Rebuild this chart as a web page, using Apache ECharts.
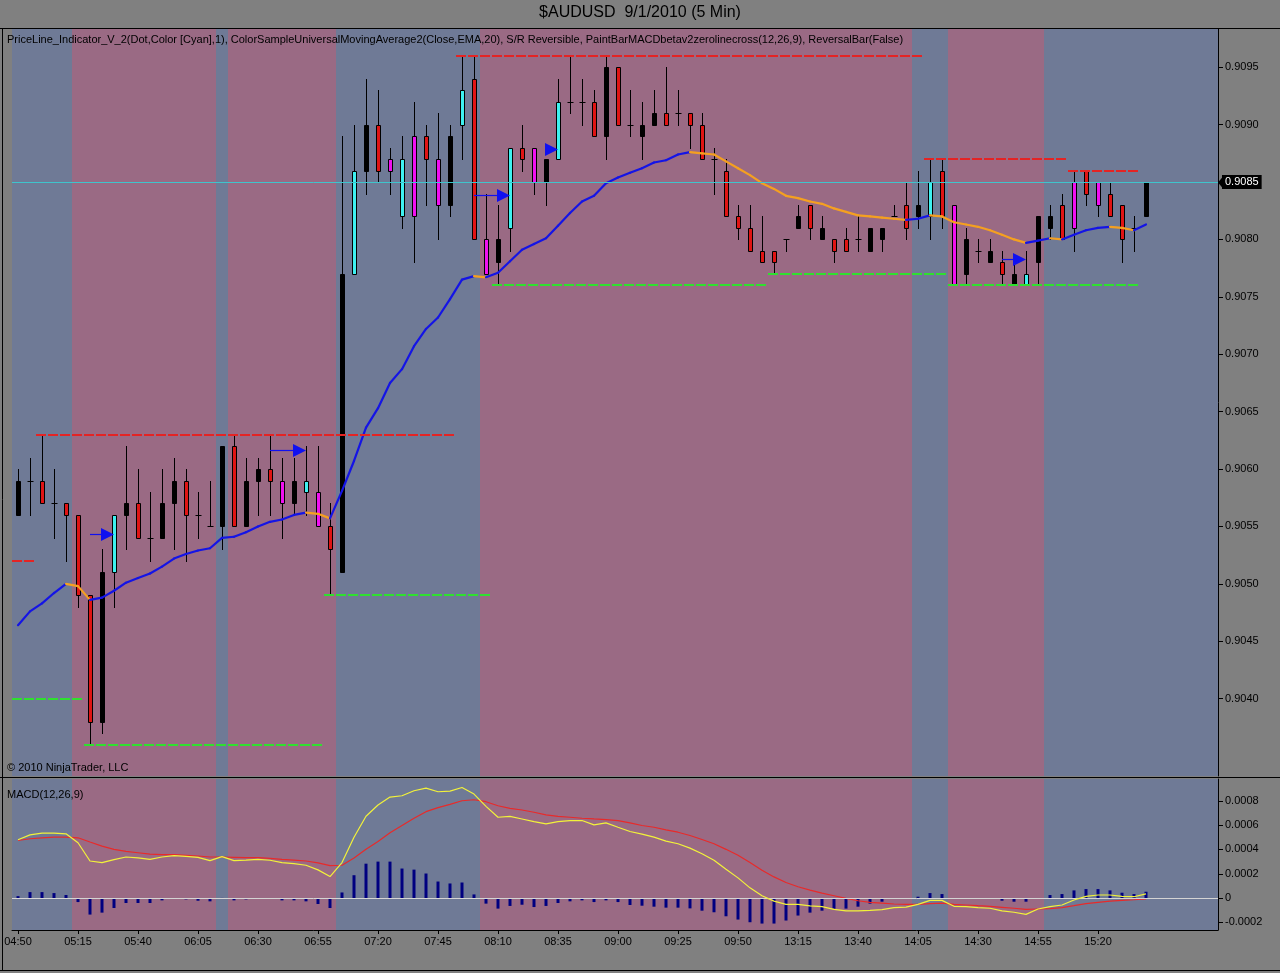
<!DOCTYPE html>
<html><head><meta charset="utf-8">
<script src="https://cdn.jsdelivr.net/npm/echarts@6/dist/echarts.min.js"></script>
<style>html,body{margin:0;padding:0;background:#808080;}#c{width:1280px;height:973px;}</style>
</head><body><div id="c"></div>
<script>
// ---------- DATA ----------
const times = [
'04:50','04:55','05:00','05:05','05:10','05:15','05:20','05:25','05:30','05:35',
'05:40','05:45','05:50','05:55','06:00','06:05','06:10','06:15','06:20','06:25',
'06:30','06:35','06:40','06:45','06:50','06:55','07:00','07:05','07:10','07:15',
'07:20','07:25','07:30','07:35','07:40','07:45','07:50','07:55','08:00','08:05',
'08:10','08:15','08:20','08:25','08:30','08:35','08:40','08:45','08:50','08:55',
'09:00','09:05','09:10','09:15','09:20','09:25','09:30','09:35','09:40','09:45',
'09:50','12:55','13:00','13:05','13:10','13:15','13:20','13:25','13:30','13:35',
'13:40','13:45','13:50','13:55','14:00','14:05','14:10','14:15','14:20','14:25',
'14:30','14:35','14:40','14:45','14:50','14:55','15:00','15:05','15:10','15:15',
'15:20','15:25','15:30','15:35','15:40'];

const opens = [
.9056,.9059,.9059,.9057,.9057,.9056,.9049,.9038,.9051,.9056,
.9057,.9054,.9054,.9057,.9059,.9056,.9055,.9055,.9062,.9055,
.9059,.9060,.9059,.9057,.9058,.9058,.9055,.9051,.9077,.9086,
.9090,.9087,.9082,.9089,.9089,.9087,.9083,.9090,.9094,.9080,
.9078,.9081,.9088,.9088,.9085,.9087,.9092,.9092,.9092,.9089,
.9095,.9090,.9089,.9090,.9091,.9091,.9091,.9090,.9087,.9086,
.9082,.9081,.9079,.9079,.9080,.9081,.9083,.9080,.9080,.9080,
.9080,.9079,.9080,.9082,.9083,.9082,.9082,.9086,.9083,.9077,
.9079,.9078,.9078,.9076,.9076,.9078,.9081,.9083,.9085,.9086,
.9085,.9084,.9083,.9081,.9082];
const highs = [
.9060,.9061,.9063,.9060,.9057,.9056,.9049,.9053,.9056,.9062,
.9060,.9058,.9060,.9061,.9060,.9058,.9059,.9062,.9063,.9061,
.9061,.9063,.9061,.9061,.9062,.9062,.9057,.9089,.9090,.9094,
.9093,.9088,.9089,.9092,.9090,.9091,.9090,.9096,.9096,.9084,
.9083,.9088,.9090,.9088,.9087,.9094,.9096,.9094,.9093,.9096,
.9095,.9093,.9092,.9093,.9095,.9093,.9091,.9091,.9088,.9087,
.9083,.9083,.9082,.9079,.9080,.9083,.9083,.9082,.9080,.9081,
.9082,.9081,.9081,.9083,.9085,.9086,.9087,.9087,.9083,.9081,
.9080,.9080,.9079,.9078,.9079,.9082,.9083,.9084,.9086,.9086,
.9085,.9085,.9083,.9082,.9085];
const lows = [
.9056,.9056,.9057,.9054,.9052,.9048,.9036,.9037,.9048,.9053,
.9054,.9052,.9054,.9053,.9052,.9054,.9055,.9053,.9055,.9055,
.9056,.9056,.9054,.9056,.9056,.9055,.9049,.9051,.9077,.9084,
.9085,.9084,.9081,.9078,.9083,.9080,.9082,.9087,.9080,.9077,
.9076,.9079,.9086,.9084,.9083,.9087,.9091,.9090,.9089,.9087,
.9090,.9089,.9087,.9090,.9090,.9090,.9088,.9087,.9084,.9082,
.9080,.9079,.9078,.9077,.9079,.9081,.9080,.9080,.9078,.9079,
.9079,.9079,.9079,.9082,.9080,.9081,.9080,.9081,.9076,.9076,
.9078,.9078,.9076,.9076,.9076,.9076,.9080,.9080,.9079,.9083,
.9082,.9082,.9078,.9079,.9082];
const closes = [
.9059,.9059,.9057,.9057,.9056,.9049,.9038,.9051,.9056,.9057,
.9054,.9054,.9057,.9059,.9056,.9056,.9055,.9062,.9055,.9059,
.9060,.9059,.9057,.9059,.9059,.9055,.9053,.9077,.9086,.9090,
.9086,.9086,.9087,.9082,.9087,.9083,.9089,.9093,.9080,.9077,
.9080,.9088,.9087,.9085,.9087,.9092,.9092,.9092,.9089,.9095,
.9090,.9090,.9090,.9091,.9090,.9091,.9090,.9087,.9087,.9082,
.9081,.9079,.9078,.9078,.9080,.9082,.9081,.9081,.9079,.9079,
.9080,.9081,.9081,.9082,.9081,.9083,.9085,.9082,.9076,.9080,
.9079,.9079,.9077,.9077,.9077,.9082,.9082,.9080,.9081,.9084,
.9083,.9082,.9080,.9081,.9085];
// paint-bar colour codes: k black, r red, c cyan, m magenta
const paint = [
'k','k','r','k','r','r','r','k','c','k',
'r','k','k','k','r','k','k','k','r','k',
'k','r','m','k','c','m','r','k','c','k',
'r','m','c','m','r','m','k','c','r','m',
'k','c','r','m','k','c','k','k','r','k',
'r','k','k','k','r','k','r','r','k','r',
'r','r','r','r','k','k','r','k','r','r',
'k','k','k','k','r','k','c','r','m','k',
'k','k','r','k','c','k','k','r','m','r',
'm','r','r','k','k'];
const ema20 = [
.90464,.90476,.90483,.90492,.90500,.90498,.90486,.90488,.90494,.90501,
.90505,.90509,.90515,.90522,.90526,.90529,.90531,.90540,.90541,.90545,
.90550,.90554,.90556,.90560,.90562,.90561,.90557,.90581,.90607,.90636,
.90653,.90675,.90687,.90707,.90722,.90732,.90748,.90765,.90768,.90767,
.90771,.90781,.90791,.90796,.90801,.90812,.90823,.90833,.90838,.90849,
.90854,.90858,.90862,.90867,.90869,.90874,.90876,.90875,.90874,.90868,
.90862,.90856,.90849,.90844,.90838,.90836,.90833,.90831,.90827,.90824,
.90821,.90820,.90819,.90818,.90817,.90818,.90821,.90820,.90815,.90813,
.90811,.90808,.90804,.90800,.90797,.90799,.90801,.90800,.90804,.90808,
.90810,.90811,.90810,.90808,.90813];
const macd = [
4.80e-4,5.20e-4,5.34e-4,5.34e-4,5.29e-4,4.55e-4,3.05e-4,2.92e-4,3.16e-4,3.38e-4,
3.30e-4,3.19e-4,3.38e-4,3.49e-4,3.43e-4,3.35e-4,3.08e-4,3.41e-4,3.08e-4,3.13e-4,
3.19e-4,3.11e-4,2.92e-4,2.83e-4,2.70e-4,2.32e-4,1.77e-4,2.92e-4,5.01e-4,6.73e-4,
7.66e-4,8.31e-4,8.42e-4,8.83e-4,9.05e-4,8.75e-4,8.80e-4,9.10e-4,8.56e-4,7.55e-4,
6.65e-4,6.73e-4,6.51e-4,6.29e-4,6.10e-4,6.29e-4,6.38e-4,6.38e-4,6.02e-4,6.19e-4,
5.83e-4,5.48e-4,5.26e-4,5.01e-4,4.69e-4,4.47e-4,4.11e-4,3.65e-4,3.11e-4,2.37e-4,
1.66e-4,0.84e-4,0.19e-4,-0.25e-4,-0.52e-4,-0.52e-4,-0.65e-4,-0.71e-4,-0.93e-4,-1.06e-4,
-1.06e-4,-1.01e-4,-0.95e-4,-0.79e-4,-0.74e-4,-0.52e-4,-0.19e-4,-0.19e-4,-0.68e-4,-0.71e-4,
-0.79e-4,-0.84e-4,-1.06e-4,-1.17e-4,-1.34e-4,-0.90e-4,-0.71e-4,-0.57e-4,-0.16e-4,0.14e-4,
0.25e-4,0.25e-4,0.14e-4,0.11e-4,0.35e-4];
const signal = [
4.74e-4,4.88e-4,4.96e-4,5.01e-4,5.01e-4,4.96e-4,4.61e-4,4.28e-4,4.01e-4,3.84e-4,
3.73e-4,3.62e-4,3.57e-4,3.57e-4,3.52e-4,3.46e-4,3.38e-4,3.38e-4,3.35e-4,3.32e-4,
3.32e-4,3.27e-4,3.19e-4,3.13e-4,3.05e-4,2.89e-4,2.67e-4,2.70e-4,3.30e-4,4.01e-4,
4.66e-4,5.37e-4,5.97e-4,6.57e-4,7.11e-4,7.44e-4,7.71e-4,8.01e-4,8.09e-4,7.93e-4,
7.60e-4,7.38e-4,7.25e-4,7.06e-4,6.84e-4,6.73e-4,6.65e-4,6.57e-4,6.51e-4,6.46e-4,
6.38e-4,6.19e-4,5.97e-4,5.83e-4,5.61e-4,5.42e-4,5.15e-4,4.82e-4,4.47e-4,4.01e-4,
3.52e-4,2.92e-4,2.29e-4,1.74e-4,1.28e-4,0.93e-4,0.65e-4,0.41e-4,0.19e-4,-0.03e-4,
-0.22e-4,-0.35e-4,-0.41e-4,-0.49e-4,-0.52e-4,-0.52e-4,-0.46e-4,-0.41e-4,-0.52e-4,-0.57e-4,
-0.63e-4,-0.68e-4,-0.76e-4,-0.84e-4,-0.93e-4,-0.90e-4,-0.87e-4,-0.79e-4,-0.63e-4,-0.46e-4,
-0.35e-4,-0.25e-4,-0.19e-4,-0.14e-4,-0.08e-4];
const hist = [
0.16e-4,0.49e-4,0.49e-4,0.41e-4,0.25e-4,-0.33e-4,-1.36e-4,-1.20e-4,-0.82e-4,-0.41e-4,
-0.41e-4,-0.41e-4,-0.19e-4,-0.05e-4,-0.11e-4,-0.22e-4,-0.27e-4,0.01e-4,-0.19e-4,-0.11e-4,
-0.05e-4,-0.05e-4,-0.19e-4,-0.19e-4,-0.27e-4,-0.49e-4,-0.82e-4,0.46e-4,1.88e-4,2.83e-4,
3.00e-4,3.00e-4,2.43e-4,2.34e-4,2.02e-4,1.36e-4,1.20e-4,1.28e-4,0.30e-4,-0.46e-4,
-0.87e-4,-0.65e-4,-0.55e-4,-0.74e-4,-0.65e-4,-0.41e-4,-0.27e-4,-0.19e-4,-0.33e-4,-0.19e-4,
-0.33e-4,-0.57e-4,-0.63e-4,-0.71e-4,-0.79e-4,-0.79e-4,-0.85e-4,-1.04e-4,-1.17e-4,-1.50e-4,
-1.77e-4,-1.99e-4,-2.10e-4,-2.10e-4,-1.85e-4,-1.44e-4,-1.20e-4,-1.04e-4,-0.87e-4,-0.87e-4,
-0.71e-4,-0.46e-4,-0.30e-4,-0.08e-4,-0.08e-4,0.11e-4,0.41e-4,0.33e-4,-0.08e-4,-0.08e-4,
-0.08e-4,-0.08e-4,-0.22e-4,-0.30e-4,-0.30e-4,-0.01e-4,0.25e-4,0.33e-4,0.63e-4,0.74e-4,
0.74e-4,0.63e-4,0.44e-4,0.33e-4,0.52e-4];
// S/R levels: [fromBar, toBar, price]
const resistance = [[-0.5,1.5,0.9052],[1.5,36.5,0.9063],[36.5,75.5,0.9096],[75.5,87.5,0.9087],[87.5,93.5,0.9086]];
const support = [[-0.5,5.5,0.9040],[5.5,25.5,0.9036],[25.5,39.5,0.9049],[39.5,62.5,0.9076],[62.5,77.5,0.9077],[77.5,93.5,0.9076]];
// signal arrows: [fromBar, toBar, price]
const arrows = [[6,8,0.90543],[21,24,0.90617],[38,41,0.90839],[44,45,0.90879],[82,84,0.90783]];
const timeTickIdx = [0,5,10,15,20,25,30,35,40,45,50,55,60,65,70,75,80,85,90];
const priceTicks = [0.9040,0.9045,0.9050,0.9055,0.9060,0.9065,0.9070,0.9075,0.9080,0.9085,0.9090,0.9095];
const macdTicks = [-0.0002,0,0.0002,0.0004,0.0006,0.0008];

// ---------- STYLE ----------
const X_MIN = -0.5, X_MAX = 100;
const BLUE_BG = '#6f7a96', MAUVE_BG = '#9a6a84';
const PAINT = {k:'#000000', r:'#e01414', c:'#3ef0f0', m:'#f010f0'};
const FONT = 'Liberation Sans';
const SANS = '"Liberation Sans",sans-serif';
const lastClose = closes[closes.length - 1];

const bands = [];
hist.forEach((v, i) => {
  const s = v >= 0 ? 1 : 0;
  const last = bands[bands.length - 1];
  if (last && last[2] === s) last[1] = i + 0.5; else bands.push([i - 0.5, i + 0.5, s]);
});
bands[bands.length - 1][1] = X_MAX;

function bandItem(params, api) {
  const cs = params.coordSys;
  const x0 = api.coord([api.value(0), 0])[0], x1 = api.coord([api.value(1), 0])[0];
  return {type: 'rect', shape: {x: x0, y: cs.y, width: x1 - x0, height: cs.height},
          style: {fill: api.value(2) ? BLUE_BG : MAUVE_BG}};
}
function candleItem(params, api) {
  const i = params.dataIndex;
  const o = opens[i], c = closes[i], l = lows[i], h = highs[i];
  const yo = api.coord([i, o])[1], yc = api.coord([i, c])[1];
  const yl = api.coord([i, l])[1], yh = api.coord([i, h])[1];
  const x = Math.round(api.coord([i, o])[0]) + 0.5;
  const kids = [{type: 'line', shape: {x1: x, y1: Math.round(yh), x2: x, y2: Math.round(yl) + 1},
                 style: {stroke: '#000', lineWidth: 1}}];
  if (o === c) {
    const y = Math.round(yo) + 0.5;
    kids.push({type: 'line', shape: {x1: x - 3, y1: y, x2: x + 3, y2: y}, style: {stroke: '#000', lineWidth: 1}});
  } else {
    const t = Math.round(Math.min(yo, yc)) + 0.5, b = Math.round(Math.max(yo, yc)) + 0.5;
    kids.push({type: 'rect', shape: {x: x - 2, y: t, width: 4, height: b - t},
               style: {fill: PAINT[paint[i]], stroke: '#000', lineWidth: 1}});
  }
  return {type: 'group', children: kids};
}
function emaItem(params, api) {
  const i = params.dataIndex;
  if (i === 0) return null;
  const p0 = api.coord([i - 1, ema20[i - 1]]), p1 = api.coord([i, ema20[i]]);
  const up = ema20[i] >= ema20[i - 1];
  return {type: 'line', shape: {x1: p0[0], y1: p0[1], x2: p1[0], y2: p1[1]},
          style: {stroke: up ? '#1414e6' : '#f5a020', lineWidth: 2.2, lineCap: 'round'}};
}
function levelItem(color) {
  return function (params, api) {
    const p0 = api.coord([api.value(0), api.value(2)]), p1 = api.coord([api.value(1), api.value(2)]);
    const y = Math.round(p0[1]);
    return {type: 'line', shape: {x1: p0[0], y1: y, x2: p1[0], y2: y},
            style: {stroke: color, lineWidth: 2, lineDash: [10, 2]}};
  };
}
function arrowItem(params, api) {
  const p0 = api.coord([api.value(0), api.value(2)]), p1 = api.coord([api.value(1), api.value(2)]);
  const y = Math.round(p0[1]) + 0.5, xt = Math.round(p1[0]);
  return {type: 'group', children: [
    {type: 'line', shape: {x1: p0[0], y1: y, x2: xt - 10, y2: y}, style: {stroke: '#1010f0', lineWidth: 1.2}},
    {type: 'polygon', shape: {points: [[xt - 13, y - 6.5], [xt, y], [xt - 13, y + 6.5]]}, style: {fill: '#1010f0'}}
  ]};
}

const idx = times.map((t, i) => i);
const chart = echarts.init(document.getElementById('c'), null, {renderer: 'canvas'});
const staticGraphics = [
  {type: 'text', left: 'center', top: 5, style: {text: '$AUDUSD  9/1/2010 (5 Min)', fill: '#000', font: '16px ' + SANS}, z: 10},
  {type: 'text', x: 7, y: 34, style: {text: 'PriceLine_Indicator_V_2(Dot,Color [Cyan],1), ColorSampleUniversalMovingAverage2(Close,EMA,20), S/R Reversible, PaintBarMACDbetav2zerolinecross(12,26,9), ReversalBar(False)', fill: '#000', font: '11px ' + SANS}, z: 10},
  {type: 'text', x: 7, y: 762, style: {text: '\u00a9 2010 NinjaTrader, LLC', fill: '#000', font: '11px ' + SANS}, z: 10},
  {type: 'text', x: 7, y: 789, style: {text: 'MACD(12,26,9)', fill: '#000', font: '11px ' + SANS}, z: 10},
  {type: 'line', shape: {x1: 0, y1: 28.5, x2: 1280, y2: 28.5}, style: {stroke: '#000', lineWidth: 1}, z: 10},
  {type: 'line', shape: {x1: 0, y1: 777.5, x2: 1280, y2: 777.5}, style: {stroke: '#000', lineWidth: 1}, z: 10},
  {type: 'line', shape: {x1: 0, y1: 970.5, x2: 1280, y2: 970.5}, style: {stroke: '#000', lineWidth: 1}, z: 10},
  {type: 'line', shape: {x1: 2.5, y1: 28, x2: 2.5, y2: 971}, style: {stroke: '#000', lineWidth: 1}, z: 10}
];
chart.setOption({
  backgroundColor: '#808080',
  animation: false,
  grid: [
    {left: 12, right: 62, top: 29, height: 747},
    {left: 12, right: 62, top: 779, height: 151}
  ],
  xAxis: [
    {type: 'value', gridIndex: 0, min: X_MIN, max: X_MAX, show: false},
    {type: 'value', gridIndex: 1, min: X_MIN, max: X_MAX,
     axisLine: {show: true, onZero: false, lineStyle: {color: '#000', width: 1}},
     axisTick: {show: true, customValues: timeTickIdx, length: 4, lineStyle: {color: '#000'}},
     axisLabel: {show: true, customValues: timeTickIdx, formatter: v => times[Math.round(v)] || '',
                 color: '#000', fontFamily: FONT, fontSize: 11, margin: 6},
     splitLine: {show: false}}
  ],
  yAxis: [
    {type: 'value', gridIndex: 0, position: 'right', min: 0.903326, max: 0.909833,
     axisLine: {show: true, onZero: false, lineStyle: {color: '#000'}},
     axisTick: {show: true, customValues: priceTicks, length: 5, lineStyle: {color: '#000'}},
     axisLabel: {customValues: priceTicks, formatter: v => v.toFixed(4), color: '#000',
                 fontFamily: FONT, fontSize: 11, margin: 7},
     splitLine: {show: false}},
    {type: 'value', gridIndex: 1, position: 'right', min: -0.000263, max: 0.00098,
     axisLine: {show: true, onZero: false, lineStyle: {color: '#000'}},
     axisTick: {show: true, customValues: macdTicks, length: 5, lineStyle: {color: '#000'}},
     axisLabel: {customValues: macdTicks, formatter: v => Math.abs(v) < 1e-9 ? '0' : v.toFixed(4), color: '#000',
                 fontFamily: FONT, fontSize: 11, margin: 7},
     splitLine: {show: false}}
  ],
  series: [
    {type: 'custom', name: 'bg', xAxisIndex: 0, yAxisIndex: 0, data: bands, encode: {x: [0, 1]},
     renderItem: bandItem, clip: true, silent: true, z: 0},
    {type: 'custom', name: 'bgMacd', xAxisIndex: 1, yAxisIndex: 1, data: bands, encode: {x: [0, 1]},
     renderItem: bandItem, clip: true, silent: true, z: 0},
    {type: 'custom', name: 'AUDUSD', xAxisIndex: 0, yAxisIndex: 0,
     data: idx.map(i => [i, lows[i], highs[i]]), encode: {x: 0, y: [1, 2]},
     renderItem: candleItem, clip: true, z: 3},
    {type: 'line', name: 'PriceLine', xAxisIndex: 0, yAxisIndex: 0, clip: false, z: 7,
     data: [[idx.length - 1, lastClose]], showSymbol: false, lineStyle: {opacity: 0},
     markLine: {silent: true, symbol: ['none', 'none'], animation: false, precision: 4,
       data: [{yAxis: lastClose}],
       lineStyle: {color: '#3fc4cc', width: 1, type: 'solid'},
       label: {show: true, position: 'end', formatter: lastClose.toFixed(4),
               backgroundColor: '#000', color: '#fff', padding: [2, 3, 1, 3], fontFamily: FONT, fontSize: 11, distance: 4}}},
    {type: 'custom', name: 'EMA20', xAxisIndex: 0, yAxisIndex: 0,
     data: idx.map(i => [i, ema20[i]]), encode: {x: 0, y: 1}, renderItem: emaItem, clip: true, z: 4},
    {type: 'custom', name: 'Resistance', xAxisIndex: 0, yAxisIndex: 0, data: resistance,
     encode: {x: [0, 1], y: 2}, renderItem: levelItem('#e42424'), clip: true, z: 5},
    {type: 'custom', name: 'Support', xAxisIndex: 0, yAxisIndex: 0, data: support,
     encode: {x: [0, 1], y: 2}, renderItem: levelItem('#2fe02f'), clip: true, z: 5},
    {type: 'custom', name: 'Signals', xAxisIndex: 0, yAxisIndex: 0, data: arrows,
     encode: {x: [0, 1], y: 2}, renderItem: arrowItem, clip: true, z: 6},
    {type: 'bar', name: 'Diff', xAxisIndex: 1, yAxisIndex: 1, data: idx.map(i => [i, hist[i]]),
     barWidth: 3, itemStyle: {color: '#000080'}, z: 3,
     markLine: {silent: true, symbol: ['none', 'none'], data: [{yAxis: 0}], label: {show: false},
                lineStyle: {color: '#d4d4d4', width: 1, type: 'solid'}}},
    {type: 'line', name: 'Avg', xAxisIndex: 1, yAxisIndex: 1, data: idx.map(i => [i, signal[i]]),
     showSymbol: false, lineStyle: {color: '#e82a2a', width: 1.2}, z: 4},
    {type: 'line', name: 'MACD', xAxisIndex: 1, yAxisIndex: 1, data: idx.map(i => [i, macd[i]]),
     showSymbol: false, lineStyle: {color: '#f2f23a', width: 1.2}, z: 5}
  ],
  graphic: staticGraphics
});
// pointer of the current-price tag, placed through the price scale
const py = Math.round(chart.convertToPixel({yAxisIndex: 0}, lastClose)) + 0.5;
const axisX = chart.convertToPixel({xAxisIndex: 0}, X_MAX);
chart.setOption({graphic: staticGraphics.concat([
  {type: 'polygon', shape: {points: [[axisX, py], [axisX + 5, py - 6], [axisX + 5, py + 6]]}, style: {fill: '#000'}, z: 12}
])});
</script></body></html>
